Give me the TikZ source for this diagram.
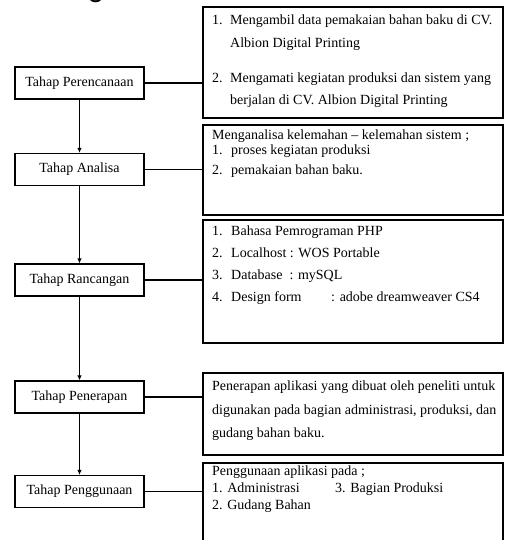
\documentclass[tikz,border=0pt]{standalone}
\usepackage{fontspec}
\setmainfont{Liberation Serif}
\newfontfamily\headfont{Liberation Sans}
\usetikzlibrary{arrows.meta}

\begin{document}
\begin{tikzpicture}[x=1pt,y=-1pt]
    \useasboundingbox (0,0) rectangle (509,540);
    % cut heading
    \node[anchor=base,inner sep=0] (head) at (96,-3) {\headfont\fontsize{30}{30}\selectfont g};
    \begin{scope}[every node/.style={rectangle,draw,line width=1.2pt,minimum width=129,minimum height=32,inner sep=0,
        font=\fontsize{14}{16}\selectfont}]
        \node (rencana) at (79.5,83) {Tahap Perencanaan};
        \node (analisa) at (79.5,169.5) {Tahap Analisa};
        \node (rancang) at (79.5,280) {Tahap Rancangan};
        \node (terap) at (79.5,397) {Tahap Penerapan};
        \node (guna) at (79.5,491.5) {Tahap Penggunaan};
    \end{scope}
    \begin{scope}[every node/.style={rectangle,draw,line width=1.2pt,minimum width=300,inner sep=0}]
        \node[minimum height=111] (ket1) at (353,62.5) {};
        \node[minimum height=90] (ket2) at (353,170) {};
        \node[minimum height=123] (ket3) at (353,281.5) {};
        \node[minimum height=82] (ket4) at (353,414) {};
        \node[minimum height=137] (ket5) at (353,531.5) {};
    \end{scope}
    \begin{scope}[every node/.style={anchor=west,inner sep=0,text height=1.5ex,text depth=.25ex,
        font=\fontsize{14}{16}\selectfont}]
        \node (k1a) at (212,22) {\makebox[18pt][l]{1.}Mengambil data pemakaian bahan baku di CV.};
        \node (k1b) at (230,45) {Albion Digital Printing};
        \node (k1c) at (212,80) {\makebox[18pt][l]{2.}Mengamati kegiatan produksi dan sistem yang};
        \node (k1d) at (230,102) {berjalan di CV. Albion Digital Printing};
        \node (k2a) at (212,137) {Menganalisa kelemahan -- kelemahan sistem ;};
        \node (k2b) at (212,152) {\makebox[19pt][l]{1.}proses kegiatan produksi};
        \node (k2c) at (212,172) {\makebox[19pt][l]{2.}pemakaian bahan baku.};
        \node (k3a) at (212,233) {\makebox[19pt][l]{1.}Bahasa Pemrograman PHP};
        \node (k3b) at (212,255) {\makebox[19pt][l]{2.}Localhost : WOS Portable};
        \node (k3c) at (212,277) {\makebox[19pt][l]{3.}Database~ : mySQL};
        \node (k3d) at (212,299) {\makebox[19pt][l]{4.}\makebox[100pt][l]{Design form}: adobe dreamweaver CS4};
        \node (k4a) at (212,388) {Penerapan aplikasi yang dibuat oleh peneliti untuk};
        \node (k4b) at (212,412) {digunakan pada bagian administrasi, produksi, dan};
        \node (k4c) at (212,435) {gudang bahan baku.};
        \node (k5a) at (212,473) {Penggunaan aplikasi pada ;};
        \node (k5b) at (212,490) {\makebox[123pt][l]{1. Administrasi}3. Bagian Produksi};
        \node (k5c) at (212,507) {2. Gudang Bahan};
    \end{scope}
    \begin{scope}[line width=1.2pt,every edge/.style={draw=black,line width=1.2pt}]
        \path[->] (rencana) edge[-{Latex[length=5pt,width=4.5pt]}] (analisa);
        \path[->] (analisa) edge[-{Latex[length=5pt,width=4.5pt]}] (rancang);
        \path[->] (rancang) edge[-{Latex[length=5pt,width=4.5pt]}] (terap);
        \path[->] (terap) edge[-{Latex[length=5pt,width=4.5pt]}] (guna);
        \path (rencana.east) edge (rencana.east -| ket1.west);
        \path (analisa.east) edge (analisa.east -| ket2.west);
        \path (rancang.east) edge (rancang.east -| ket3.west);
        \path (terap.east) edge (terap.east -| ket4.west);
        \path (guna.east) edge (guna.east -| ket5.west);
    \end{scope}
\end{tikzpicture}
\end{document}
